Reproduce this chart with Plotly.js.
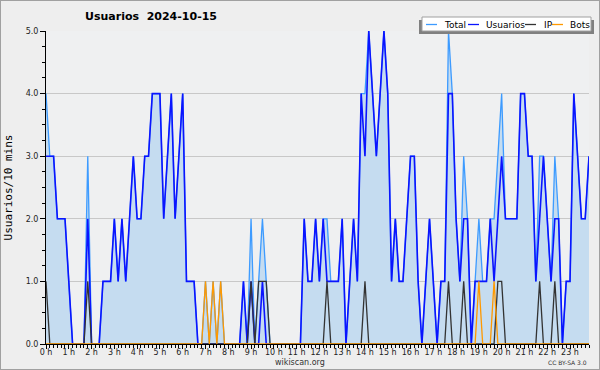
<!DOCTYPE html>
<html>
<head>
<meta charset="utf-8">
<script src="https://cdn.plot.ly/plotly-3.0.1.min.js"></script>
<style>
  html, body { margin: 0; padding: 0; background: #eeeeee; }
  #wrap { position: relative; width: 600px; height: 370px; }
  #chart { position: absolute; left: 0; top: 0; width: 600px; height: 370px; }
  #frame { position: absolute; left: 0; top: 0; width: 598px; height: 368px; border: 1px solid #a0a0a0; pointer-events: none; }
</style>
</head>
<body>
<div id="wrap"><div id="chart"></div><div id="frame"></div></div>
<script>
// ---- data (one value per 10 minutes, 00:00 .. 23:50) ----
const titleText = 'Usuarios\u00a0\u00a02024-10-15';
const yTitle = 'Usuarios/10 mins';
const hourLabels = ['0 h','1 h','2 h','3 h','4 h','5 h','6 h','7 h','8 h','9 h','10 h','11 h',
                    '12 h','13 h','14 h','15 h','16 h','17 h','18 h','19 h','20 h','21 h','22 h','23 h'];
const seriesNames = ['Total', 'Usuarios', 'IP', 'Bots'];

const total = [
  4,3,3,2,2,2,1,0,0,0,
  0,3,0,0,0,1,1,1,2,1,
  2,1,2,3,2,2,3,3,4,4,
  4,2,3,4,2,3,4,1,1,1,
  0,0,1,0,1,0,1,0,0,0,
  0,0,1,0,2,0,1,2,1,0,
  0,0,0,0,0,0,0,0,2,1,
  1,2,1,2,2,1,1,1,2,0,
  1,2,1,4,4,5,4,3,4,5,
  4,1,2,1,1,2,3,3,1,0,
  1,2,1,0,1,1,5,4,2,1,
  3,2,0,1,2,1,1,2,2,3,
  4,2,2,2,2,4,4,3,3,1,
  3,3,2,1,3,2,0,1,1,4,
  3,2,2,3
];
const usuarios = [
  3,3,3,2,2,2,1,0,0,0,
  0,2,0,0,0,1,1,1,2,1,
  2,1,2,3,2,2,3,3,4,4,
  4,2,3,4,2,3,4,1,1,1,
  0,0,0,0,0,0,0,0,0,0,
  0,0,1,0,1,0,0,1,0,0,
  0,0,0,0,0,0,0,0,2,1,
  1,2,1,2,1,1,1,1,2,0,
  1,2,1,4,3,5,4,3,4,5,
  4,1,2,1,1,2,3,3,1,0,
  1,2,1,0,1,1,4,4,2,1,
  2,2,0,1,1,1,1,2,1,2,
  3,2,2,2,2,4,4,3,3,1,
  2,3,2,1,2,2,0,1,1,4,
  3,2,2,3
];
const ip = [
  1,0,0,0,0,0,0,0,0,0,
  0,1,0,0,0,0,0,0,0,0,
  0,0,0,0,0,0,0,0,0,0,
  0,0,0,0,0,0,0,0,0,0,
  0,0,0,0,0,0,0,0,0,0,
  0,0,0,0,1,0,1,1,1,0,
  0,0,0,0,0,0,0,0,0,0,
  0,0,0,0,1,0,0,0,0,0,
  0,0,0,0,1,0,0,0,0,0,
  0,0,0,0,0,0,0,0,0,0,
  0,0,0,0,0,0,1,0,0,0,
  1,0,0,0,0,0,0,0,0,1,
  1,0,0,0,0,0,0,0,0,0,
  1,0,0,0,1,0,0,0,0,0,
  0,0,0,0
];
const bots = [
  0,0,0,0,0,0,0,0,0,0,
  0,0,0,0,0,0,0,0,0,0,
  0,0,0,0,0,0,0,0,0,0,
  0,0,0,0,0,0,0,0,0,0,
  0,0,1,0,1,0,1,0,0,0,
  0,0,0,0,0,0,0,0,0,0,
  0,0,0,0,0,0,0,0,0,0,
  0,0,0,0,0,0,0,0,0,0,
  0,0,0,0,0,0,0,0,0,0,
  0,0,0,0,0,0,0,0,0,0,
  0,0,0,0,0,0,0,0,0,0,
  0,0,0,0,1,0,0,0,1,0,
  0,0,0,0,0,0,0,0,0,0,
  0,0,0,0,0,0,0,0,0,0,
  0,0,0,0
];

// ---- styles ----
const colors = { Total: '#3d9bff', Usuarios: '#0a14ff', IP: '#333333', Bots: '#ff9900' };
const fillColor = '#c5dcf0';
const FONT = 'DejaVu Sans, Verdana, sans-serif';

// x in hours (10-minute steps)
const hours = total.map((_, i) => i / 6);
const hourTicks = hourLabels.map((_, h) => h);

const seriesData = { Total: total, Usuarios: usuarios, IP: ip, Bots: bots };
const traces = seriesNames.map(name => {
  const t = {
    x: hours, y: seriesData[name], type: 'scatter', mode: 'lines', name: name,
    line: { color: colors[name], width: name === 'Usuarios' ? 1.6 : 1.3, shape: 'linear' },
    hoverinfo: 'skip'
  };
  if (name === 'Total') { t.fill = 'tozeroy'; t.fillcolor = fillColor; }
  return t;
});

// plot area in pixels
const L = 46, R = 589, T = 31, B = 344;
const px = v => (v - L) / (R - L);
const py = v => (B - v) / (B - T);

// manual legend geometry (pixels)
const legLineX = [426, 468, 525, 552];
const legTextX = [442, 484, 542, 568];
const legY = 24.5;

const shapes = [
  { type: 'rect', xref: 'paper', yref: 'paper', x0: px(419), x1: px(594), y0: py(34), y1: py(20),
    fillcolor: '#808080', line: { width: 0 } },
  { type: 'rect', xref: 'paper', yref: 'paper', x0: px(422), x1: px(591), y0: py(31), y1: py(17),
    fillcolor: '#ffffff', line: { color: '#a0a0a0', width: 1 } }
];
const annotations = [];
seriesNames.forEach((name, k) => {
  shapes.push({ type: 'line', xref: 'paper', yref: 'paper',
    x0: px(legLineX[k]), x1: px(legLineX[k] + 11), y0: py(legY), y1: py(legY),
    line: { color: colors[name], width: 1.3 } });
  annotations.push({ xref: 'paper', yref: 'paper', x: px(legTextX[k]), y: py(legY),
    xanchor: 'left', yanchor: 'middle', showarrow: false, text: name,
    font: { family: FONT, size: 9, color: '#000' } });
});
annotations.push({ xref: 'paper', yref: 'paper', x: px(300), y: py(362), xanchor: 'center', yanchor: 'middle',
  showarrow: false, text: 'wikiscan.org', font: { family: FONT, size: 8, color: '#333' } });
annotations.push({ xref: 'paper', yref: 'paper', x: px(589), y: py(362), xanchor: 'right', yanchor: 'middle',
  showarrow: false, text: 'CC BY-SA 3.0', font: { family: FONT, size: 6, color: '#333' } });

const layout = {
  width: 600, height: 370,
  margin: { l: L, r: 600 - R, t: T, b: 370 - B, pad: 0 },
  paper_bgcolor: '#eeeeee',
  plot_bgcolor: '#eff0f1',
  showlegend: false,
  title: { text: titleText, font: { family: FONT, size: 11, color: '#000', weight: 'bold' },
           x: 151 / 600, xanchor: 'center', xref: 'container', y: 1 - 16 / 370, yanchor: 'middle', yref: 'container' },
  xaxis: {
    range: [0, 143 / 6], tickmode: 'array', tickvals: hourTicks, ticktext: hourLabels,
    showgrid: false, zeroline: false, showline: true, linecolor: '#000', linewidth: 1,
    ticks: 'outside', ticklen: 4, tickcolor: '#000', tickwidth: 1,
    ticklabelstandoff: -4,
    tickfont: { family: FONT, size: 8, color: '#222' },
    minor: { dtick: 1 / 6, tick0: 0, ticks: 'outside', ticklen: 2.5, tickcolor: '#000', tickwidth: 1, showgrid: false },
    fixedrange: true
  },
  yaxis: {
    range: [0, 5], tickmode: 'linear', tick0: 0, dtick: 1, tickformat: '.1f',
    showgrid: true, gridcolor: '#c8c8c8', gridwidth: 1, zeroline: false,
    showline: true, linecolor: '#000', linewidth: 1,
    ticks: 'outside', ticklen: 5, tickcolor: '#000', tickwidth: 1,
    tickfont: { family: FONT, size: 8, color: '#222' },
    minor: { dtick: 0.25, ticks: 'outside', ticklen: 3, tickcolor: '#000', tickwidth: 1, showgrid: false },
    title: { text: yTitle, font: { family: 'DejaVu Sans Mono, monospace', size: 11, color: '#000' }, standoff: 10 },
    automargin: false,
    fixedrange: true
  },
  shapes: shapes,
  annotations: annotations
};

Plotly.newPlot('chart', traces, layout, { displayModeBar: false, staticPlot: true });
</script>
</body>
</html>
